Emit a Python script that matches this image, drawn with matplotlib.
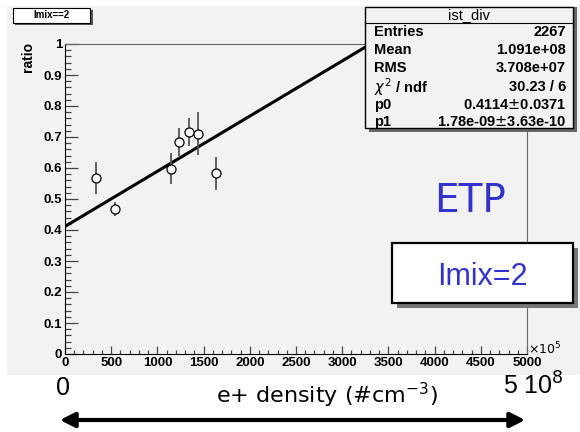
import matplotlib.pyplot as plt
from matplotlib.patches import Rectangle, FancyArrowPatch
from matplotlib.ticker import MultipleLocator, FormatStrFormatter
import numpy as np

# data (x in units of 1e5 cm^-3)
dens = [339, 539, 1142, 1236, 1342, 1443, 1638]
ratio = [0.567, 0.467, 0.597, 0.683, 0.715, 0.711, 0.583]
ratio_err = [0.052, 0.023, 0.050, 0.045, 0.045, 0.070, 0.054]

p0 = 0.4114
p1 = 1.78e-09

stat_names = ["Entries", "Mean", "RMS", r"$\chi^2$ / ndf", "p0", "p1"]
stat_vals = ["2267", "1.091e+08", "3.708e+07", "30.23 / 6",
             r"0.4114$\pm$0.0371", r"1.78e-09$\pm$3.63e-10"]

W, H = 580, 432
fig = plt.figure(figsize=(W/100, H/100), dpi=100)
fig.patch.set_facecolor('white')

def fx(px):
    return px/W
def fy(py):
    return 1 - py/H

bg = '#f2f2f2'
# root pad
fig.patches.append(Rectangle((fx(7), fy(375)), fx(573), 369/H, transform=fig.transFigure,
                             facecolor=bg, edgecolor='none', zorder=-5))

ax = fig.add_axes([fx(65), fy(354), (527-65)/W, (354-44)/H])
ax.set_facecolor(bg)
ax.set_xlim(0, 5000)
ax.set_ylim(0, 1)

xx = np.linspace(0, 5000, 200)
ax.plot(xx, p0 + p1*1e5*xx, color='black', lw=2.2, zorder=2)
ax.errorbar(dens, ratio, yerr=ratio_err, fmt='o', ms=6.5, mfc='white', mec='black',
            mew=0.9, ecolor='#555555', elinewidth=1.3, capsize=0, zorder=3)

ax.xaxis.set_major_locator(MultipleLocator(500))
ax.xaxis.set_minor_locator(MultipleLocator(100))
ax.yaxis.set_major_locator(MultipleLocator(0.1))
ax.yaxis.set_minor_locator(MultipleLocator(0.02))
ax.yaxis.set_major_formatter(FormatStrFormatter('%g'))
ax.tick_params(axis='both', which='both', direction='in', top=False, right=False,
               color='#444444', width=0.9)
ax.tick_params(axis='y', which='major', length=9, pad=2)
ax.tick_params(axis='y', which='minor', length=4.3)
ax.tick_params(axis='x', which='major', length=5.8, pad=2)
ax.tick_params(axis='x', which='minor', length=3)
for lab in ax.get_xticklabels() + ax.get_yticklabels():
    lab.set_fontfamily('Liberation Sans')
    lab.set_fontweight('bold')
    lab.set_fontsize(9.5)
for s in ['left', 'bottom']:
    ax.spines[s].set_color('black')
for s in ['top', 'right']:
    ax.spines[s].set_color('#666666')

ax.text(1.003, -0.012, r'$\times10^5$', transform=ax.transAxes, fontsize=9,
        ha='left', va='bottom', family='Liberation Sans')
fig.text(fx(28), fy(57), 'ratio', rotation=90, ha='center', va='center',
         fontsize=10, fontweight='bold', family='Liberation Sans')

# title box
fig.patches.append(Rectangle((fx(15), fy(25)), 78/W, 15/H, transform=fig.transFigure,
                             facecolor='#555555', edgecolor='none', zorder=5))
fig.patches.append(Rectangle((fx(13), fy(23)), 77/W, 15/H, transform=fig.transFigure,
                             facecolor='white', edgecolor='black', lw=0.8, zorder=6))
fig.text(fx(51.5), fy(15.5), 'lmix==2', ha='center', va='center', fontsize=7,
         fontweight='bold', family='Liberation Sans', zorder=7)

# stats box
fig.patches.append(Rectangle((fx(369), fy(132)), 208/W, 125/H, transform=fig.transFigure,
                             facecolor='#666666', edgecolor='none', zorder=5))
fig.patches.append(Rectangle((fx(365), fy(128)), 208/W, 121/H, transform=fig.transFigure,
                             facecolor=bg, edgecolor='black', lw=1.0, zorder=6))
fig.lines.append(plt.Line2D([fx(365), fx(573)], [fy(23), fy(23)], transform=fig.transFigure,
                            color='black', lw=0.8, zorder=7))
fig.text(fx(469), fy(15), 'ist_div', ha='center', va='center', fontsize=10.5,
         family='Liberation Sans', zorder=7)
rows = [32, 50, 68, 87, 105, 122]
for r, n, v in zip(rows, stat_names, stat_vals):
    fig.text(fx(374), fy(r), n, ha='left', va='center', fontsize=10.5,
             fontweight='bold', family='Liberation Sans', zorder=7)
    fig.text(fx(566), fy(r), v, ha='right', va='center', fontsize=10.5,
             fontweight='bold', family='Liberation Sans', zorder=7)

# ETP label and Imix box
fig.text(fx(470), fy(201), 'ETP', ha='center', va='center', fontsize=28,
         color='#3333cc', family='DejaVu Sans')
fig.patches.append(Rectangle((fx(397), fy(308)), 181/W, 60/H, transform=fig.transFigure,
                             facecolor='#777777', edgecolor='none', zorder=5))
fig.patches.append(Rectangle((fx(392), fy(303)), 181/W, 60/H, transform=fig.transFigure,
                             facecolor='white', edgecolor='black', lw=1.6, zorder=6))
fig.text(fx(482), fy(277), 'Imix=2', ha='center', va='center', fontsize=22,
         color='#3333cc', family='Liberation Sans', zorder=7)

# density scale below the axis
fig.text(fx(63), fy(388), '0', ha='center', va='center', fontsize=18,
         family='Liberation Sans')
fig.text(fx(533), fy(386), r'5 10$^8$', ha='center', va='center', fontsize=18,
         family='Liberation Sans')
fig.text(fx(327), fy(395), r'e+ density (#cm$^{-3}$)', ha='center', va='center',
         fontsize=16, family='DejaVu Sans')
fig.patches.append(FancyArrowPatch((fx(57), fy(420)), (fx(528), fy(420)),
                                   transform=fig.transFigure, arrowstyle='<|-|>',
                                   mutation_scale=22, lw=3, color='black'))

fig.savefig('out.png', dpi=100)
